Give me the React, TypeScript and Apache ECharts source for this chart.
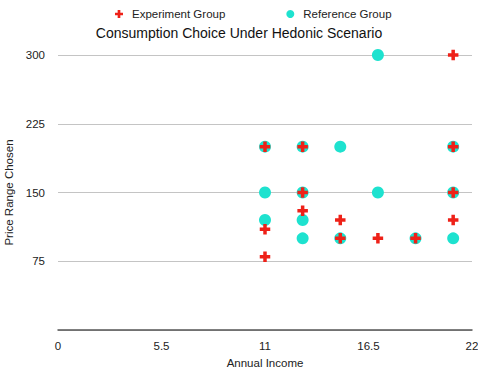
import React, { useEffect, useRef } from "react";
import * as echarts from "echarts";

const experimentX = [11, 11, 11, 13, 13, 13, 15, 15, 17, 19, 21, 21, 21, 21];
const experimentY = [200, 110, 80, 200, 150, 130, 120, 100, 100, 100, 300, 200, 150, 120];
const referenceX = [11, 11, 11, 13, 13, 13, 13, 15, 15, 17, 17, 19, 21, 21, 21];
const referenceY = [200, 150, 120, 200, 150, 120, 100, 200, 100, 300, 150, 100, 200, 150, 100];
const xTicks = [0, 5.5, 11, 16.5, 22];
const yTicks = [0, 75, 150, 225, 300];

const PLUS = "path://M4,0H8V4H12V8H8V12H4V8H0V4H4Z";
const RED = "#ee2118";
const CYAN = "#1ee2cf";

export default function App() {
  const ref = useRef<HTMLDivElement>(null);
  useEffect(() => {
    if (!ref.current) return;
    const chart = echarts.init(ref.current, null, { renderer: "svg" });
    const font = "'Liberation Sans', Arial, Helvetica, sans-serif";
    chart.setOption({
      animation: false,
      textStyle: { fontFamily: font },
      title: {
        text: "Consumption Choice Under Hedonic Scenario",
        left: "center",
        top: 21,
        textStyle: { fontSize: 14, fontWeight: "normal", color: "#111", fontFamily: font },
      },
      legend: {
        top: 3,
        left: 110,
        itemGap: 61,
        itemWidth: 16,
        itemHeight: 8,
        textStyle: { fontSize: 11.5, color: "#222", fontFamily: font },
        data: [
          { name: "Experiment Group", icon: PLUS, itemStyle: { color: RED } },
          { name: "Reference Group", icon: "circle", itemStyle: { color: CYAN } },
        ],
      },
      grid: { left: 58, right: 6, top: 55, bottom: 43, outerBoundsMode: "none", containLabel: false },
      xAxis: {
        type: "value",
        min: xTicks[0],
        max: xTicks[xTicks.length - 1],
        interval: 5.5,
        name: "Annual Income",
        nameLocation: "middle",
        nameGap: 24,
        nameTextStyle: { fontSize: 11.5, color: "#222", fontFamily: font },
        axisLine: { show: true, lineStyle: { color: "#555", width: 1.5 } },
        axisTick: { show: false },
        splitLine: { show: false },
        axisLabel: { fontSize: 11.5, color: "#222", margin: 10, fontFamily: font },
      },
      yAxis: {
        type: "value",
        min: yTicks[0],
        max: yTicks[yTicks.length - 1],
        interval: 75,
        name: "Price Range Chosen",
        nameLocation: "middle",
        nameGap: 30,
        nameTextStyle: { fontSize: 11.5, color: "#222", fontFamily: font },
        axisLine: { show: false },
        axisTick: { show: false },
        splitLine: { show: true, lineStyle: { color: "#c4c4c4", width: 1 } },
        axisLabel: {
          fontSize: 11.5,
          color: "#222",
          margin: 13,
          fontFamily: font,
          formatter: (v: number) => (v === 0 ? "" : String(v)),
        },
      },
      series: [
        {
          name: "Reference Group",
          type: "scatter",
          symbol: "circle",
          symbolSize: 12,
          itemStyle: { color: CYAN, opacity: 1 },
          z: 2,
          data: referenceX.map((x, i) => [x, referenceY[i]]),
        },
        {
          name: "Experiment Group",
          type: "scatter",
          symbol: PLUS,
          symbolSize: 10.5,
          itemStyle: { color: RED, opacity: 1 },
          z: 3,
          data: experimentX.map((x, i) => [x, experimentY[i]]),
        },
      ],
    });
    return () => chart.dispose();
  }, []);
  return <div ref={ref} style={{ width: 478, height: 373, position: "absolute", left: 0, top: 0 }} />;
}
